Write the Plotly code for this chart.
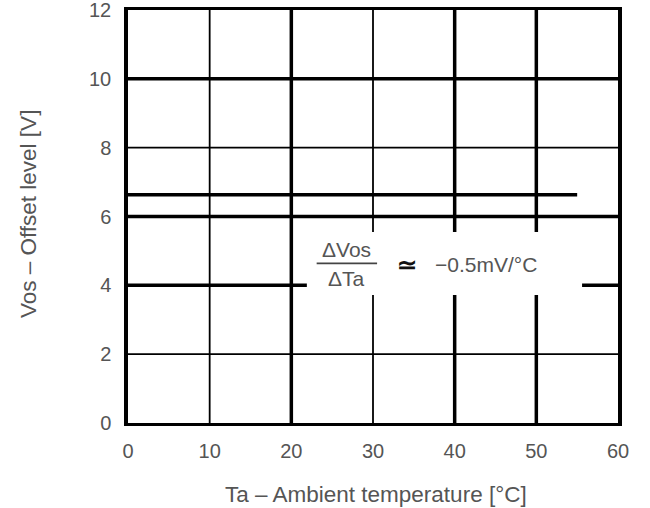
import plotly.graph_objects as go

# Data
ta = [0, 55]
vos = [6.63, 6.63]

x_ticks = [0, 10, 20, 30, 40, 50, 60]
y_ticks = [0, 2, 4, 6, 8, 10, 12]
thick_x = [20, 40, 50]
thin_x = [10, 30]
thick_y = [4, 6, 10]
thin_y = [2, 8]

label_box = dict(x0=21.9, x1=55.6, y0=3.72, y1=5.55)
numerator = "ΔVos"
denominator = "ΔTa"
approx = "≃"
coef_text = "−0.5mV/°C"
x_title = "Ta – Ambient temperature [°C]"
y_title = "Vos – Offset level [V]"

FONT = "Liberation Sans, Arial, sans-serif"
TXT = "#555555"

fig = go.Figure()
fig.add_trace(go.Scatter(x=ta, y=vos, mode="lines",
                         line=dict(color="black", width=3.5),
                         showlegend=False, hoverinfo="skip"))

shapes = []
for v in thin_x:
    shapes.append(dict(type="line", xref="x", yref="y", x0=v, x1=v, y0=0, y1=12,
                       line=dict(color="black", width=1.8), layer="below"))
for v in thick_x:
    shapes.append(dict(type="line", xref="x", yref="y", x0=v, x1=v, y0=0, y1=12,
                       line=dict(color="black", width=3.5), layer="below"))
for v in thin_y:
    shapes.append(dict(type="line", xref="x", yref="y", x0=0, x1=60, y0=v, y1=v,
                       line=dict(color="black", width=1.8), layer="below"))
for v in thick_y:
    shapes.append(dict(type="line", xref="x", yref="y", x0=0, x1=60, y0=v, y1=v,
                       line=dict(color="black", width=3.5), layer="below"))
# white label box hiding the grid
shapes.append(dict(type="rect", xref="x", yref="y", fillcolor="white",
                   line=dict(width=0), layer="below", **label_box))
# fraction bar
shapes.append(dict(type="line", xref="x", yref="y", x0=23.1, x1=30.5, y0=4.64, y1=4.64,
                   line=dict(color="#444444", width=1.8), layer="above"))

annotations = [
    dict(x=26.8, y=5.05, xref="x", yref="y", text=numerator, showarrow=False,
         font=dict(family=FONT, size=21, color=TXT)),
    dict(x=26.8, y=4.2, xref="x", yref="y", text=denominator, showarrow=False,
         font=dict(family=FONT, size=21, color=TXT)),
    dict(x=34.2, y=4.62, xref="x", yref="y", text="<b>" + approx + "</b>", showarrow=False,
         font=dict(family=FONT, size=24, color="#111111")),
    dict(x=43.8, y=4.62, xref="x", yref="y", text=coef_text, showarrow=False,
         font=dict(family=FONT, size=21, color=TXT)),
    dict(x=0.506, y=-0.174, xref="paper", yref="paper", text=x_title, showarrow=False,
         xanchor="center", yanchor="middle",
         font=dict(family=FONT, size=22.5, color=TXT)),
    dict(x=-0.204, y=0.506, xref="paper", yref="paper", text=y_title, showarrow=False,
         xanchor="center", yanchor="middle", textangle=-90,
         font=dict(family=FONT, size=22.5, color=TXT)),
]

fig.update_layout(
    width=650, height=508,
    margin=dict(l=128, r=32, t=10, b=85),
    paper_bgcolor="white", plot_bgcolor="white",
    shapes=shapes, annotations=annotations,
    font=dict(family=FONT, size=20, color=TXT),
    xaxis=dict(range=[0, 60], tickvals=x_ticks, showgrid=False, zeroline=False,
               showline=True, mirror=True, linecolor="black", linewidth=3,
               ticks="", ticklabelstandoff=8, automargin=False,
               ticklabeloverflow="allow",
               tickfont=dict(family=FONT, size=20, color=TXT)),
    yaxis=dict(range=[0, 12], tickvals=y_ticks, showgrid=False, zeroline=False,
               showline=True, mirror=True, linecolor="black", linewidth=3.5,
               ticks="", ticklabelstandoff=9, automargin=False,
               ticklabeloverflow="allow",
               tickfont=dict(family=FONT, size=20, color=TXT)),
)

fig.write_html("out.html")
